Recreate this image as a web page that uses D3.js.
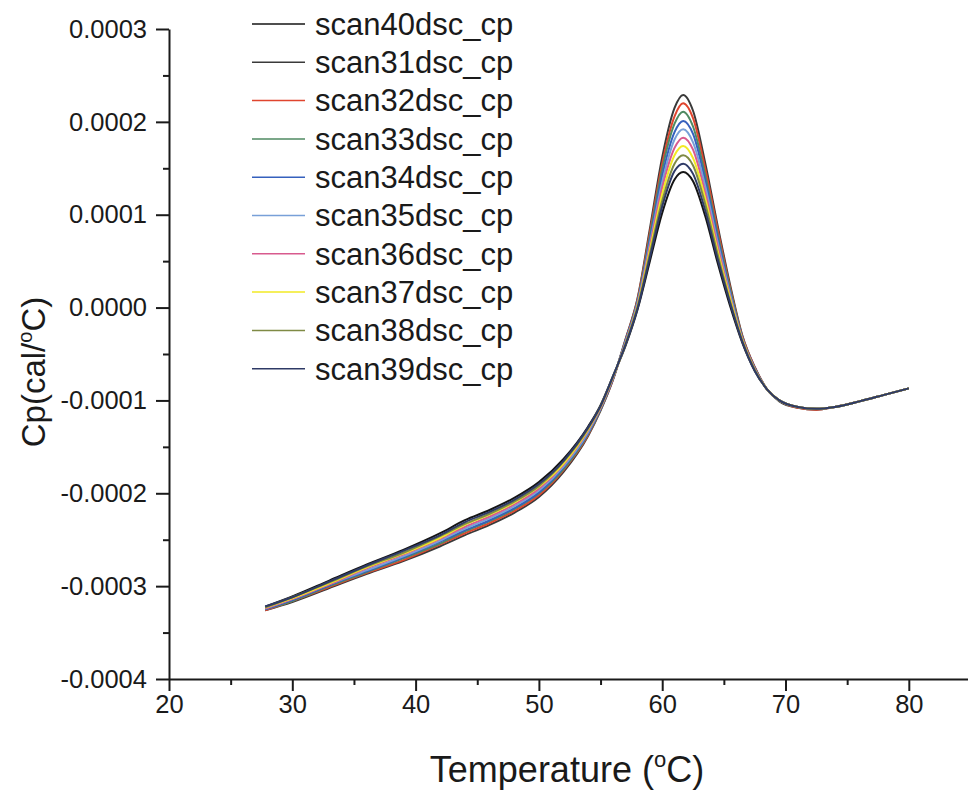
<!DOCTYPE html>
<html>
<head>
<meta charset="utf-8">
<script src="https://cdn.jsdelivr.net/npm/d3@7"></script>
<style>
  html, body { margin: 0; padding: 0; background: #fff; }
  svg { display: block; font-family: "Liberation Sans", Arial, sans-serif; }
  .axis path, .axis line { stroke: #1a1a1a; stroke-width: 2; }
  .axis text { fill: #1a1a1a; font-size: 25.5px; }
</style>
</head>
<body>
<div id="chart"></div>
<script>
// Cp values are stored in units of 1e-4 cal/°C
const UNIT = 1e-4;

const temps = [27.8, 30, 33, 36, 39, 42, 44, 46, 48, 50, 52, 54, 55, 56, 57, 58, 59, 60, 61, 61.7,
  62.5, 63.5, 64.5, 65.5, 66.5, 67.5, 68.5, 69.5, 71, 72.5, 74, 76, 78, 80];

const scan40 = [-3.22, -3.11, -2.94, -2.77, -2.61, -2.43, -2.29, -2.18, -2.05, -1.88, -1.63, -1.28, -1.05, -0.74, -0.42, -0.02, 0.50, 1.02, 1.38, 1.46,
  1.36, 0.98, 0.48, 0.02, -0.38, -0.68, -0.88, -1.00, -1.07, -1.09, -1.07, -1.01, -0.94, -0.87];
const scan31 = [-3.26, -3.17, -3.02, -2.87, -2.73, -2.57, -2.45, -2.34, -2.21, -2.04, -1.77, -1.38, -1.11, -0.78, -0.35, 0.10, 0.85, 1.62, 2.15, 2.29,
  2.12, 1.55, 0.88, 0.25, -0.30, -0.64, -0.88, -1.01, -1.08, -1.10, -1.07, -1.01, -0.94, -0.87];
const scan32 = [-3.26, -3.16, -3.01, -2.86, -2.72, -2.55, -2.43, -2.32, -2.19, -2.02, -1.75, -1.37, -1.10, -0.78, -0.36, 0.09, 0.81, 1.55, 2.06, 2.20,
  2.04, 1.49, 0.84, 0.22, -0.31, -0.64, -0.88, -1.00, -1.08, -1.10, -1.07, -1.01, -0.94, -0.87];
const scan33 = [-3.25, -3.16, -3.00, -2.85, -2.70, -2.54, -2.41, -2.30, -2.17, -2.00, -1.74, -1.36, -1.10, -0.77, -0.37, 0.07, 0.77, 1.49, 1.98, 2.11,
  1.95, 1.42, 0.79, 0.20, -0.32, -0.65, -0.88, -1.00, -1.07, -1.09, -1.07, -1.01, -0.94, -0.87];
const scan34 = [-3.25, -3.15, -2.99, -2.84, -2.69, -2.52, -2.40, -2.29, -2.16, -1.99, -1.72, -1.35, -1.09, -0.77, -0.37, 0.06, 0.73, 1.42, 1.89, 2.01,
  1.87, 1.36, 0.75, 0.17, -0.33, -0.65, -0.88, -1.00, -1.07, -1.09, -1.07, -1.01, -0.94, -0.87];
const scan35 = [-3.24, -3.14, -2.98, -2.83, -2.68, -2.51, -2.38, -2.27, -2.14, -1.97, -1.71, -1.34, -1.08, -0.76, -0.38, 0.05, 0.69, 1.35, 1.81, 1.92,
  1.78, 1.30, 0.70, 0.15, -0.34, -0.66, -0.88, -1.00, -1.07, -1.09, -1.07, -1.01, -0.94, -0.87];
const scan36 = [-3.24, -3.14, -2.98, -2.81, -2.66, -2.49, -2.36, -2.25, -2.12, -1.95, -1.69, -1.32, -1.08, -0.76, -0.39, 0.03, 0.66, 1.29, 1.72, 1.83,
  1.70, 1.23, 0.66, 0.12, -0.34, -0.66, -0.88, -1.00, -1.07, -1.09, -1.07, -1.01, -0.94, -0.87];
const scan37 = [-3.23, -3.13, -2.97, -2.80, -2.65, -2.48, -2.34, -2.23, -2.10, -1.93, -1.68, -1.31, -1.07, -0.75, -0.40, 0.02, 0.62, 1.22, 1.64, 1.74,
  1.61, 1.17, 0.61, 0.10, -0.35, -0.67, -0.88, -1.00, -1.07, -1.09, -1.07, -1.01, -0.94, -0.87];
const scan38 = [-3.23, -3.12, -2.96, -2.79, -2.64, -2.46, -2.33, -2.22, -2.09, -1.92, -1.66, -1.30, -1.06, -0.75, -0.40, 0.01, 0.58, 1.15, 1.55, 1.64,
  1.53, 1.11, 0.57, 0.07, -0.36, -0.67, -0.88, -1.00, -1.07, -1.09, -1.07, -1.01, -0.94, -0.87];
const scan39 = [-3.22, -3.12, -2.95, -2.78, -2.62, -2.45, -2.31, -2.20, -2.07, -1.90, -1.65, -1.29, -1.06, -0.74, -0.41, -0.01, 0.54, 1.09, 1.47, 1.55,
  1.44, 1.04, 0.52, 0.05, -0.37, -0.68, -0.88, -1.00, -1.07, -1.09, -1.07, -1.01, -0.94, -0.87];

const seriesNames = ['scan40dsc_cp', 'scan31dsc_cp', 'scan32dsc_cp', 'scan33dsc_cp', 'scan34dsc_cp',
  'scan35dsc_cp', 'scan36dsc_cp', 'scan37dsc_cp', 'scan38dsc_cp', 'scan39dsc_cp'];
const seriesValues = [scan40, scan31, scan32, scan33, scan34, scan35, scan36, scan37, scan38, scan39];
const seriesColors = ['#151515', '#3a3a3a', '#e0452e', '#4f8a62', '#3560bd', '#78a0d8',
  '#d85a8e', '#f2ea24', '#7f8a45', '#2e3a66'];

const xMajor = [20, 30, 40, 50, 60, 70, 80];
const xMinor = [25, 35, 45, 55, 65, 75, 85];
const yMajor = [-0.0004, -0.0003, -0.0002, -0.0001, 0, 0.0001, 0.0002, 0.0003];
const yMinor = [-0.00035, -0.00025, -0.00015, -0.00005, 0.00005, 0.00015, 0.00025];

const width = 968, height = 793;

const svg = d3.select('#chart').append('svg')
  .attr('width', width)
  .attr('height', height);

const x = d3.scaleLinear().domain([20, 84.8]).range([169, 968]);
const y = d3.scaleLinear().domain([-0.0004, 0.0003]).range([679, 29]);

const fmt = d3.format('.4f');

// minor ticks first, then major axes on top
svg.append('g')
  .attr('class', 'axis')
  .attr('transform', `translate(0,${y(-0.0004)})`)
  .call(d3.axisBottom(x).tickValues(xMinor).tickSize(6).tickSizeOuter(0).tickFormat(''))
  .select('.domain').remove();

svg.append('g')
  .attr('class', 'axis')
  .attr('transform', `translate(${x(20)},0)`)
  .call(d3.axisLeft(y).tickValues(yMinor).tickSize(6).tickSizeOuter(0).tickFormat(''))
  .select('.domain').remove();

svg.append('g')
  .attr('class', 'axis')
  .attr('transform', `translate(0,${y(-0.0004)})`)
  .call(d3.axisBottom(x).tickValues(xMajor).tickSize(12).tickSizeOuter(0).tickPadding(4));

svg.append('g')
  .attr('class', 'axis')
  .attr('transform', `translate(${x(20)},0)`)
  .call(d3.axisLeft(y).tickValues(yMajor).tickSize(13).tickSizeOuter(0).tickPadding(9)
    .tickFormat(d => fmt(d).replace('\u2212', '-')));

// curves
const line = d3.line()
  .x((d, i) => x(temps[i]))
  .y(d => y(d * UNIT))
  .curve(d3.curveMonotoneX);

svg.append('g')
  .selectAll('path')
  .data(seriesValues)
  .join('path')
  .attr('fill', 'none')
  .attr('stroke', (d, i) => seriesColors[i])
  .attr('stroke-width', 2)
  .attr('d', line);

// legend
const legend = svg.append('g').attr('transform', 'translate(252,24)');
const rows = legend.selectAll('g')
  .data(seriesNames)
  .join('g')
  .attr('transform', (d, i) => `translate(0,${i * 38.3})`);
rows.append('line')
  .attr('x1', 0).attr('x2', 53)
  .attr('stroke', (d, i) => seriesColors[i])
  .attr('stroke-width', 1.5);
rows.append('text')
  .attr('x', 63)
  .attr('dy', '0.35em')
  .attr('font-size', 31)
  .attr('fill', '#1a1a1a')
  .text(d => d);

// axis titles
const xTitle = svg.append('text')
  .attr('x', 567)
  .attr('y', 782)
  .attr('text-anchor', 'middle')
  .attr('font-size', 36)
  .attr('fill', '#1a1a1a');
xTitle.append('tspan').text('Temperature (');
xTitle.append('tspan').attr('font-size', 22).attr('dy', -15).text('o');
xTitle.append('tspan').attr('dy', 15).text('C)');

const yTitle = svg.append('text')
  .attr('transform', 'translate(45,372) rotate(-90)')
  .attr('text-anchor', 'middle')
  .attr('font-size', 33)
  .attr('fill', '#1a1a1a');
yTitle.append('tspan').text('Cp(cal/');
yTitle.append('tspan').attr('font-size', 20).attr('dy', -13).text('o');
yTitle.append('tspan').attr('dy', 13).text('C)');
</script>
</body>
</html>
